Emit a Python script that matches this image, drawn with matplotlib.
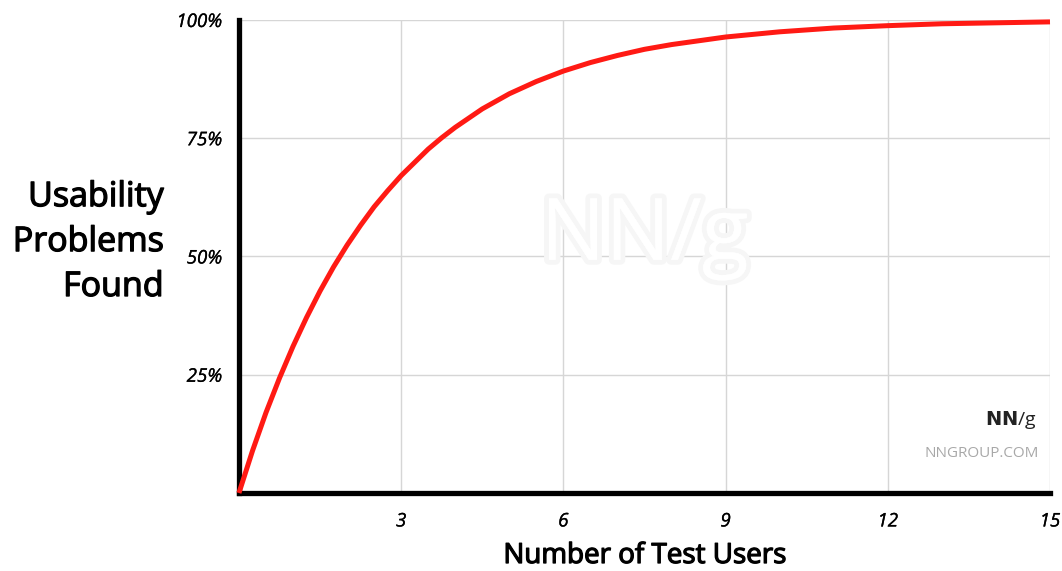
import matplotlib
matplotlib.use("Agg")
import matplotlib.pyplot as plt
import matplotlib.patheffects as pe

# values
users = [0, 0.25, 0.5, 0.75, 1, 1.25, 1.5, 1.75, 2, 2.25, 2.5, 2.75, 3, 3.25, 3.5, 3.75,
         4, 4.5, 5, 5.5, 6, 6.5, 7, 7.5, 8, 9, 10, 11, 12, 13, 14, 15]
found = [0, 8.9, 17.0, 24.3, 31.0, 37.1, 42.7, 47.8, 52.4, 56.6, 60.5, 63.9, 67.1, 69.9, 72.7, 75.1,
         77.3, 81.2, 84.4, 87.0, 89.2, 91.0, 92.5, 93.8, 94.8, 96.4, 97.5, 98.3, 98.8, 99.2, 99.4, 99.6]

xticks = [3, 6, 9, 12, 15]
yticks = [25, 50, 75, 100]
ytick_labels = ["25%", "50%", "75%", "100%"]

plt.rcParams['font.family'] = ['Open Sans', 'DejaVu Sans']

# slightly heavier strokes to get closer to the medium weight of the original
heavy = [pe.withStroke(linewidth=0.9, foreground='black')]
semi = [pe.withStroke(linewidth=0.2, foreground='black')]

fig = plt.figure(figsize=(10.62, 5.71), dpi=100)
ax = fig.add_axes([0.225, 0.1366, 0.7637, 0.8284])

ax.set_xlim(0, 15)
ax.set_ylim(0, 100)
ax.set_xticks(xticks)
ax.set_yticks(yticks)
ax.set_xticklabels([str(t) for t in xticks], fontstyle='italic', fontsize=13.5)
ax.set_yticklabels(ytick_labels, fontstyle='italic', fontsize=13.5)
for lbl in ax.get_xticklabels() + ax.get_yticklabels():
    lbl.set_path_effects(semi)
ax.tick_params(axis='x', length=0, pad=14)
ax.tick_params(axis='y', length=0, pad=12)
ax.grid(True, color='#d6d6d6', linewidth=1)
ax.set_axisbelow(True)

for s in ['top', 'right']:
    ax.spines[s].set_visible(False)
for s in ['left', 'bottom']:
    ax.spines[s].set_linewidth(3.8)
    ax.spines[s].set_color('black')

# watermark
ax.text(0.5, 0.54, "NN/g", transform=ax.transAxes, fontsize=62, color='white',
        ha='center', va='center',
        path_effects=[pe.withStroke(linewidth=7, foreground='#f6f6f6'), pe.Normal()])

ax.plot(users, found, color='#ff1a14', linewidth=3.6, clip_on=False, zorder=5,
        solid_capstyle='butt', solid_joinstyle='round')

fig.text(0.154, 0.576, "Usability\nProblems\nFound", ha='right', va='center',
         fontsize=24.5, linespacing=1.42, path_effects=heavy)
fig.text(0.607, 0.014, "Number of Test Users", ha='center', va='baseline',
         fontsize=20, path_effects=heavy)

# logo
fig.text(0.9765, 0.255, r"$\mathbf{NN}$/g", ha='right', va='baseline',
         fontsize=14, color='#222222')
fig.text(0.978, 0.200, "NNGROUP.COM", ha='right', va='baseline', fontsize=11,
         color='#a8a8a8')

fig.savefig("out.png", dpi=100)
